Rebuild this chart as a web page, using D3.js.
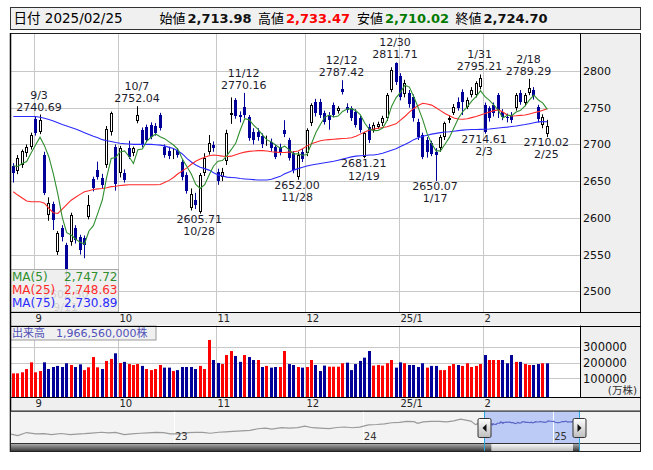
<!DOCTYPE html>
<html lang="ja">
<head>
<meta charset="utf-8">
<title>TOPIX 日足</title>
<script src="https://cdn.jsdelivr.net/npm/d3@7/dist/d3.min.js"></script>
<style>
html,body{margin:0;padding:0;background:#fff;}
svg{display:block;font-family:"DejaVu Sans","Noto Sans CJK JP",sans-serif;}
</style>
</head>
<body>
<svg id="chart" width="653" height="470"></svg>
<script>
// ---------------- data ----------------
const dates = [
"2024-08-26","2024-08-27","2024-08-28","2024-08-29","2024-08-30",
"2024-09-02","2024-09-03","2024-09-04","2024-09-05","2024-09-06",
"2024-09-09","2024-09-10","2024-09-11","2024-09-12","2024-09-13",
"2024-09-17","2024-09-18","2024-09-19","2024-09-20",
"2024-09-24","2024-09-25","2024-09-26","2024-09-27","2024-09-30",
"2024-10-01","2024-10-02","2024-10-03","2024-10-04",
"2024-10-07","2024-10-08","2024-10-09","2024-10-10","2024-10-11",
"2024-10-15","2024-10-16","2024-10-17","2024-10-18",
"2024-10-21","2024-10-22","2024-10-23","2024-10-24","2024-10-25",
"2024-10-28","2024-10-29","2024-10-30","2024-10-31",
"2024-11-01","2024-11-05","2024-11-06","2024-11-07","2024-11-08",
"2024-11-11","2024-11-12","2024-11-13","2024-11-14","2024-11-15",
"2024-11-18","2024-11-19","2024-11-20","2024-11-21","2024-11-22",
"2024-11-25","2024-11-26","2024-11-27","2024-11-28","2024-11-29",
"2024-12-02","2024-12-03","2024-12-04","2024-12-05","2024-12-06",
"2024-12-09","2024-12-10","2024-12-11","2024-12-12","2024-12-13",
"2024-12-16","2024-12-17","2024-12-18","2024-12-19","2024-12-20",
"2024-12-23","2024-12-24","2024-12-25","2024-12-26","2024-12-27",
"2024-12-30",
"2025-01-06","2025-01-07","2025-01-08","2025-01-09","2025-01-10",
"2025-01-14","2025-01-15","2025-01-16","2025-01-17",
"2025-01-20","2025-01-21","2025-01-22","2025-01-23","2025-01-24",
"2025-01-27","2025-01-28","2025-01-29","2025-01-30","2025-01-31",
"2025-02-03","2025-02-04","2025-02-05","2025-02-06","2025-02-07",
"2025-02-10","2025-02-12","2025-02-13","2025-02-14",
"2025-02-17","2025-02-18","2025-02-19","2025-02-20","2025-02-21",
"2025-02-25"
];
const open = [
2670.6,2663.8,2672.0,2688.0,2697.0, 2734.2,2716.5,2685.6,2604.0,2618.5,
2554.0,2586.6,2563.0,2567.5,2586.6, 2574.0,2573.0,2601.6,2652.5,
2665.0,2654.0,2672.0,2716.5,2697.0, 2660.7,2660.7,2694.7,2688.0,
2732.3,2719.7,2724.0,2726.5,2725.0, 2740.0,2697.0,2691.0,2688.0,
2692.0,2676.0,2658.0,2613.0,2624.3, 2608.0,2660.7,2690.0,2699.0,
2663.0,2656.0,2678.0,2740.0,2760.0, 2739.5,2751.4,2737.8,2717.0,2717.3,
2712.0,2704.0,2703.8,2697.0,2697.0, 2719.7,2706.0,2688.0,2656.0,2690.0,
2688.0,2729.0,2758.0,2758.0,2742.4, 2740.0,2753.7,2746.0,2775.0,2751.4,
2749.0,2744.6,2735.6,2683.3,2724.0, 2719.7,2724.0,2728.8,2735.6,2774.0,
2810.5,
2793.0,2768.0,2770.0,2765.0,2731.0, 2712.8,2706.0,2701.5,2689.0,
2694.7,2710.5,2733.3,2743.2,2758.2, 2771.8,2751.4,2767.3,2767.3,2778.6,
2753.7,2749.0,2753.7,2767.0,2744.6, 2737.8,2740.0,2749.2,2769.6,
2756.0,2770.5,2774.0,2751.4,2726.5, 2713.98
];
const high = [
2674.5,2685.5,2693.0,2700.0,2716.0, 2737.5,2740.69,2690.0,2628.0,2622.0,
2582.0,2590.0,2566.0,2607.0,2590.0, 2577.0,2576.0,2631.0,2656.0,
2676.5,2660.0,2725.0,2744.6,2700.0, 2698.0,2666.0,2705.0,2697.0,
2752.04,2723.0,2727.0,2730.0,2729.0, 2743.0,2700.0,2697.0,2695.0,
2695.0,2679.0,2662.0,2640.0,2634.0, 2661.0,2688.0,2712.8,2704.0,
2667.0,2668.0,2720.0,2764.0,2763.0, 2745.0,2770.16,2740.0,2722.0,2722.0,
2715.0,2712.0,2708.0,2700.0,2701.0, 2733.0,2709.0,2691.0,2690.0,2694.0,
2722.0,2756.0,2762.0,2762.0,2746.0, 2744.0,2757.0,2752.0,2787.42,2756.0,
2752.0,2748.0,2739.0,2717.0,2728.0, 2730.0,2731.0,2739.0,2770.0,2805.0,
2811.71,
2797.0,2788.0,2774.0,2768.0,2735.0, 2716.0,2710.0,2705.0,2695.0,
2713.0,2731.0,2740.0,2755.0,2764.0, 2775.0,2764.0,2778.0,2786.0,2795.21,
2757.0,2752.0,2757.0,2770.0,2748.0, 2742.0,2744.0,2770.0,2774.0,
2770.0,2789.29,2778.0,2754.0,2741.0, 2733.47
];
const low = [
2648.0,2659.5,2668.0,2683.0,2693.0, 2712.0,2714.0,2631.0,2596.0,2583.5,
2549.5,2568.0,2502.50,2562.0,2565.0, 2550.0,2545.0,2598.0,2636.0,
2652.0,2640.0,2668.0,2712.0,2637.0, 2655.0,2648.0,2680.0,2684.0,
2728.8,2696.0,2703.0,2707.0,2712.0, 2719.0,2682.0,2680.0,2680.0,
2682.0,2651.0,2633.0,2610.0,2612.0, 2605.71,2657.0,2686.0,2690.0,
2645.0,2650.0,2672.0,2728.0,2735.0, 2730.0,2736.0,2705.0,2700.0,2705.0,
2695.0,2698.0,2690.0,2680.0,2685.0, 2710.0,2678.0,2660.7,2652.00,2676.0,
2684.0,2725.0,2738.0,2736.0,2727.0, 2720.0,2737.0,2742.0,2768.0,2743.0,
2732.0,2723.0,2716.0,2681.21,2702.0, 2716.0,2721.0,2725.0,2732.0,2771.0,
2781.0,
2760.0,2764.0,2750.0,2731.0,2706.0, 2680.0,2682.0,2684.0,2650.07,
2690.0,2706.0,2729.0,2740.0,2746.0, 2740.0,2748.0,2764.0,2764.0,2775.0,
2714.61,2731.0,2738.0,2736.0,2733.0, 2730.0,2729.0,2746.0,2754.0,
2752.0,2767.0,2761.0,2730.0,2722.0, 2710.02
];
const close = [
2660.7,2681.0,2690.7,2697.0,2712.63, 2715.2,2733.3,2633.4,2620.0,2597.0,
2579.0,2574.3,2529.0,2604.0,2569.9, 2556.0,2563.0,2617.5,2640.0,
2656.0,2645.0,2721.0,2742.4,2645.94, 2694.7,2651.6,2683.3,2694.7,
2740.1,2699.2,2706.0,2710.5,2715.2, 2722.0,2685.6,2684.0,2689.0,
2686.0,2655.0,2636.0,2633.0,2617.5, 2658.4,2681.0,2701.5,2694.7,
2650.0,2663.0,2715.0,2743.0,2739.0, 2738.0,2740.0,2708.3,2706.0,2710.5,
2700.0,2706.0,2694.7,2683.3,2690.0, 2714.2,2681.0,2665.2,2685.6,2680.71,
2719.0,2753.7,2742.4,2740.0,2731.0, 2733.0,2740.0,2749.0,2771.8,2746.9,
2735.6,2726.5,2719.7,2715.2,2706.0, 2726.5,2727.8,2735.6,2767.3,2801.4,
2784.92,
2765.0,2784.0,2755.0,2735.6,2710.5, 2683.3,2689.0,2687.0,2686.0,
2710.5,2728.8,2735.6,2751.4,2750.0, 2758.2,2760.5,2774.0,2783.0,2790.0,
2717.3,2735.6,2742.4,2746.9,2737.8, 2735.6,2733.3,2767.3,2758.2,
2767.3,2776.85,2765.52,2734.33,2737.20, 2724.70
];
// 出来高 (万株)
const volume = [
132000,132000,139000,160000,203000, 139000,147000,203000,160000,173000,
180000,173000,197000,186000,173000, 190000,153000,171000,237000,
171000,160000,212000,225000,261000, 199000,206000,192000,186000,
192000,180000,160000,153000,160000, 186000,169000,169000,147000,
153000,173000,173000,173000,160000, 180000,160000,347000,218000,
199000,192000,250000,276000,244000, 206000,250000,237000,218000,218000,
173000,180000,169000,173000,173000, 276000,192000,186000,173000,169000,
173000,218000,186000,147000,182000, 175000,175000,175000,197000,201000,
153000,192000,212000,233000,276000, 182000,186000,182000,197000,218000,
169000,
203000,197000,186000,186000,173000, 197000,169000,180000,180000,
153000,153000,180000,192000,186000, 180000,197000,173000,180000,192000,
250000,218000,218000,218000,218000, 197000,250000,206000,206000,
192000,186000,186000,192000,197000, 196656
];
// closes of the four sessions before the first date (5-day average lead-in)
const ma5Lead = [2686.0, 2670.0, 2684.0, 2654.0];
const ma25 = [
2635.6,2631.0,2627.0,2623.0,2622.0, 2622.0,2622.0,2620.0,2613.0,2607.0,
2606.0,2612.0,2618.0,2624.0,2628.0, 2632.0,2635.5,2637.0,2638.5,
2639.5,2640.0,2641.0,2642.5,2643.0, 2644.0,2644.5,2645.0,2645.0,
2645.0,2645.0,2645.0,2645.0,2645.0, 2645.5,2648.0,2651.0,2655.0,
2660.0,2664.0,2668.0,2673.0,2677.0, 2680.0,2682.5,2684.5,2685.6,
2685.0,2684.0,2683.5,2684.0,2686.0, 2688.0,2689.5,2690.5,2691.0,2691.5,
2691.5,2691.0,2690.0,2689.5,2689.0, 2689.0,2689.5,2690.0,2691.0,2694.0,
2698.0,2701.0,2703.0,2705.0,2706.0, 2706.5,2707.0,2707.5,2708.0,2708.3,
2709.0,2711.0,2714.0,2717.0,2719.5, 2721.0,2722.0,2723.0,2724.0,2726.0,
2728.0,
2733.0,2738.0,2744.0,2749.0,2753.0, 2756.0,2755.0,2753.5,2750.0,
2746.0,2742.0,2739.0,2736.0,2734.5, 2734.2,2735.0,2736.5,2738.0,2740.0,
2742.0,2744.0,2746.0,2747.0,2744.0, 2740.0,2738.7,2739.0,2739.5,
2740.0,2741.5,2743.0,2744.6,2746.5, 2748.63
];
const ma75 = [
2738.0,2738.0,2738.0,2738.0,2738.0, 2738.0,2737.0,2735.5,2734.0,2732.0,
2729.5,2727.0,2725.0,2723.0,2721.0, 2718.5,2716.0,2713.5,2711.0,
2709.0,2706.5,2705.0,2704.0,2702.5, 2701.5,2701.0,2700.5,2700.0,
2700.0,2700.0,2700.0,2700.0,2699.5, 2699.0,2698.0,2696.0,2694.5,
2691.0,2687.0,2681.0,2676.0,2672.0, 2669.0,2667.0,2665.0,2661.5,
2658.5,2657.0,2655.5,2655.0,2654.5, 2653.5,2653.0,2652.5,2652.0,2651.5,
2651.5,2651.5,2652.5,2654.5,2656.5, 2660.0,2662.5,2665.0,2667.0,2669.0,
2670.5,2672.0,2673.0,2674.0,2675.0, 2676.0,2677.0,2678.5,2680.0,2681.5,
2683.0,2684.0,2684.5,2685.0,2685.5, 2685.6,2686.5,2688.0,2690.0,2692.0,
2694.0,
2697.0,2700.0,2703.0,2706.5,2709.0, 2711.0,2712.5,2714.0,2715.0,
2716.0,2716.8,2717.3,2718.0,2718.8, 2719.5,2720.0,2720.2,2720.4,2720.5,
2720.6,2721.0,2721.7,2722.4,2723.0, 2723.5,2724.3,2725.0,2726.0,
2727.0,2728.2,2729.5,2730.7,2731.0, 2730.89
];
const priceTicks = [2500, 2550, 2600, 2650, 2700, 2750, 2800];
const volumeTicks = [100000, 200000, 300000];
const monthStarts = ["2024-09-02","2024-10-01","2024-11-01","2024-12-02","2025-01-06","2025-02-03"];
const monthLabels = ["9","10","11","12","25/1","2"];
// swing highs / lows that carry a price tag
const swingDates = ["2024-09-03","2024-09-11","2024-10-07","2024-10-28","2024-11-12","2024-11-28",
  "2024-12-12","2024-12-19","2024-12-30","2025-01-17","2025-01-31","2025-02-03","2025-02-18","2025-02-25"];
const swingKinds = ["high","low","high","low","high","low","high","low","high","low","high","low","high","low"];
// longer history for the overview strip
const navDates = [
"2022-02-21","2022-03-08","2022-03-25","2022-04-12","2022-04-28","2022-05-12","2022-05-31",
"2022-06-17","2022-06-30","2022-07-15","2022-07-29","2022-08-17","2022-08-31","2022-09-13",
"2022-09-30","2022-10-14","2022-10-31","2022-11-15","2022-11-30","2022-12-15","2022-12-28",
"2023-01-13","2023-01-31","2023-02-15","2023-02-28","2023-03-15","2023-03-31","2023-04-14",
"2023-04-28","2023-05-15","2023-05-31","2023-06-15","2023-06-30","2023-07-12","2023-07-31",
"2023-08-15","2023-08-31","2023-09-14","2023-09-29","2023-10-13","2023-10-31","2023-11-15",
"2023-11-30","2023-12-14","2023-12-29","2024-01-15","2024-01-31","2024-02-15","2024-02-29",
"2024-03-15","2024-03-29","2024-04-12","2024-04-19","2024-04-30","2024-05-15","2024-05-31",
"2024-06-14","2024-06-28","2024-07-11","2024-07-31","2024-08-09","2024-08-16"
];
const navValues = [
1880,1760,1980,1880,1900,1840,1912,
1830,1871,1900,1940,2000,1963,1990,
1836,1880,1929,1960,1986,1970,1890,
1890,1975,1990,1993,1930,2003,2030,
2057,2100,2131,2250,2289,2230,2323,
2300,2332,2430,2323,2290,2254,2340,
2375,2320,2366,2520,2551,2600,2676,
2700,2769,2750,2630,2743,2770,2772,
2740,2810,2929,2794,2540,2650
];
const navYearLabels = ["23","24","25"];
const navYearStarts = ["2023-01-04","2024-01-04","2025-01-06"];

// ---------------- layout ----------------
const n = dates.length;
const svg = d3.select("#chart");
const L = 10, R = 580, RR = 641;
const T = 33, B = 312;
const band1 = [312, 325.5];
const VT = 325.5, VB = 397;
const band2 = [397, 410.5];
const NT = 410.5, NL = 443, NB = 452;
const grid = "#c8c8c8", panel = "#efefef";
const upFill = "#ffffff", downFill = "#000099";
const col5 = "#2f8f2f", col25 = "#ff2a2a", col75 = "#2b2bff";
const parse = d3.timeParse("%Y-%m-%d");

const x = d3.scaleBand().domain(d3.range(n)).range([11.08, 11.08 + 4.45 * n]);
const cx = i => x(i) + x.bandwidth() / 2;
const px = i => Math.round(cx(i) - 0.5) + 0.5;
const y = d3.scaleLinear().domain([2471.8, 2851.7]).range([B, T]);
const vy = d3.scaleLinear().domain([-20000, 440000]).range([VB, VT]);

// moving averages
const ma5 = close.map((c, i) => {
  const win = ma5Lead.concat(close).slice(i, i + 5);
  return d3.mean(win);
});

const defs = svg.append("defs");
defs.append("clipPath").attr("id", "clipMain")
  .append("rect").attr("x", L).attr("y", T).attr("width", R - L).attr("height", B - T);
defs.append("clipPath").attr("id", "clipVol")
  .append("rect").attr("x", L).attr("y", VT).attr("width", R - L).attr("height", VB - VT);

// ---------------- header ----------------
const last = n - 1;
const hdr = svg.append("g");
hdr.append("rect").attr("x", 10.5).attr("y", 7.5).attr("width", 630).attr("height", 22)
  .attr("fill", "#f0f0f0").attr("stroke", "#333");
const fmt2 = d3.format(",.2f");
const dLast = parse(dates[last]);
hdr.append("text").attr("x", 13.5).attr("y", 23).attr("font-size", 13.5)
  .text("日付 " + d3.timeFormat("%Y/%m/%d")(dLast));
const hItems = [
  {k: "始値", v: open[last], c: "#111", x: 159.5},
  {k: "高値", v: high[last], c: "#ff0000", x: 258},
  {k: "安値", v: low[last], c: "#007a00", x: 357},
  {k: "終値", v: close[last], c: "#111", x: 455.5}
];
hItems.forEach(h => {
  hdr.append("text").attr("x", h.x).attr("y", 23).attr("font-size", 13).text(h.k);
  hdr.append("text").attr("x", h.x + 28).attr("y", 23).attr("font-size", 13)
    .attr("font-weight", "bold").attr("fill", h.c).text(fmt2(h.v));
});

// ---------------- frames / panels ----------------
svg.append("rect").attr("x", L).attr("y", T).attr("width", R - L).attr("height", B - T).attr("fill", "#fff");
svg.append("rect").attr("x", R).attr("y", T).attr("width", RR - R).attr("height", B - T).attr("fill", panel);
svg.append("rect").attr("x", L).attr("y", band1[0]).attr("width", RR - L).attr("height", band1[1] - band1[0]).attr("fill", panel);
svg.append("rect").attr("x", L).attr("y", VT).attr("width", R - L).attr("height", VB - VT).attr("fill", "#fff");
svg.append("rect").attr("x", R).attr("y", VT).attr("width", RR - R).attr("height", VB - VT).attr("fill", panel);
svg.append("rect").attr("x", L).attr("y", band2[0]).attr("width", RR - L).attr("height", band2[1] - band2[0]).attr("fill", panel);

const monthIdx = monthStarts.map(d => dates.indexOf(d));
const gx = i => Math.round(x(i) + 0.5) + 0.5;

// price grid
const gMain = svg.append("g");
gMain.selectAll(".hg").data(priceTicks).join("line")
  .attr("x1", L).attr("x2", R)
  .attr("y1", d => Math.round(y(d)) + 0.5).attr("y2", d => Math.round(y(d)) + 0.5)
  .attr("stroke", grid);
gMain.selectAll(".vg").data(monthIdx).join("line")
  .attr("x1", gx).attr("x2", gx).attr("y1", T).attr("y2", B).attr("stroke", grid);

// volume grid
const gVol = svg.append("g");
gVol.selectAll(".hg").data(volumeTicks).join("line")
  .attr("x1", L).attr("x2", R)
  .attr("y1", d => Math.round(vy(d)) + 0.5).attr("y2", d => Math.round(vy(d)) + 0.5)
  .attr("stroke", grid);
gVol.selectAll(".vg").data(monthIdx).join("line")
  .attr("x1", gx).attr("x2", gx).attr("y1", VT).attr("y2", VB).attr("stroke", grid);

// ---------------- price axis ----------------
const yAxis = d3.axisRight(y).tickValues(priceTicks).tickSize(0).tickPadding(3).tickFormat(d3.format("d"));
svg.append("g").attr("transform", `translate(${R},0)`).call(yAxis)
  .call(g => g.select(".domain").remove())
  .call(g => g.selectAll("text").attr("font-size", 11).attr("fill", "#111")
    .attr("font-family", "DejaVu Sans"));

const vAxis = d3.axisRight(vy).tickValues(volumeTicks).tickSize(0).tickPadding(3).tickFormat(d3.format("d"));
svg.append("g").attr("transform", `translate(${R},0)`).call(vAxis)
  .call(g => g.select(".domain").remove())
  .call(g => g.selectAll("text").attr("font-size", 11.5).attr("fill", "#111")
    .attr("font-family", "DejaVu Sans"));
svg.append("text").attr("x", 637).attr("y", 394).attr("text-anchor", "end")
  .attr("font-size", 10.5).attr("fill", "#333").text("(万株)");

// month labels in both bands
[band1, band2].forEach(b => {
  svg.append("g").selectAll("text").data(monthIdx).join("text")
    .attr("x", i => gx(i) + 1).attr("y", b[0] + 9.8)
    .attr("font-size", 10).attr("fill", "#222")
    .text((d, k) => monthLabels[k]);
});

// ---------------- candles ----------------
const gC = svg.append("g").attr("clip-path", "url(#clipMain)");
d3.range(n).forEach(i => {
  const up = close[i] >= open[i];
  const c = px(i);
  gC.append("line").attr("x1", c).attr("x2", c)
    .attr("y1", y(high[i])).attr("y2", y(low[i]))
    .attr("stroke", up ? "#000" : downFill).attr("stroke-width", 1);
  const t = Math.round(y(Math.max(open[i], close[i])));
  const b = Math.round(y(Math.min(open[i], close[i])));
  if (up) {
    gC.append("rect").attr("x", c - 1).attr("y", t + 0.5)
      .attr("width", 2).attr("height", Math.max(0, b - t - 1))
      .attr("fill", upFill).attr("stroke", "#000").attr("stroke-width", 1);
  } else {
    gC.append("rect").attr("x", c - 1.5).attr("y", t)
      .attr("width", 3).attr("height", Math.max(1, b - t))
      .attr("fill", downFill);
  }
});

// ---------------- moving averages ----------------
const line = d3.line().x((d, i) => cx(i)).y(d => y(d));
const gMA = svg.append("g").attr("clip-path", "url(#clipMain)").attr("fill", "none").attr("stroke-width", 1.1);
gMA.append("path").attr("d", line(ma75)).attr("stroke", col75);
gMA.append("path").attr("d", line(ma25)).attr("stroke", col25);
gMA.append("path").attr("d", line(ma5)).attr("stroke", col5);

// ---------------- swing tags ----------------
const fmtP = d3.format(".2f");
const fmtMD = d => { const t = parse(d); return (t.getMonth() + 1) + "/" + t.getDate(); };
const gTag = svg.append("g").attr("font-size", 11).attr("fill", "#1c1c2c").attr("text-anchor", "middle");
swingDates.forEach((d, k) => {
  const i = dates.indexOf(d);
  const tx = cx(i) - 1;
  if (swingKinds[k] === "high") {
    const yy = y(high[i]);
    gTag.append("text").attr("x", tx).attr("y", yy - 4).text(fmtP(high[i]));
    gTag.append("text").attr("x", tx).attr("y", yy - 16).text(fmtMD(d));
  } else {
    const yy = y(low[i]);
    gTag.append("text").attr("x", tx).attr("y", yy + 9).text(fmtP(low[i]));
    gTag.append("text").attr("x", tx).attr("y", yy + 21.3).text(fmtMD(d));
  }
});

// MA legend
const lg = svg.append("g");
lg.append("rect").attr("x", 10.5).attr("y", 269.5).attr("width", 108).attr("height", 42.5)
  .attr("fill", "rgba(236,236,236,0.86)").attr("stroke", "#aaa");
[["MA(5)", ma5, col5], ["MA(25)", ma25, col25], ["MA(75)", ma75, col75]].forEach((m, k) => {
  const yy = 280.5 + k * 13.4;
  lg.append("text").attr("x", 12).attr("y", yy).attr("font-size", 12).attr("fill", m[2]).text(m[0]);
  lg.append("text").attr("x", 117.5).attr("y", yy).attr("font-size", 12).attr("fill", m[2])
    .attr("text-anchor", "end").text(fmt2(m[1][last]));
});

// ---------------- volume ----------------
const gV = svg.append("g").attr("clip-path", "url(#clipVol)");
const prevClose = i => i === 0 ? ma5Lead[ma5Lead.length - 1] : close[i - 1];
gV.selectAll("rect").data(volume).join("rect")
  .attr("x", (d, i) => px(i) - 1.5).attr("width", 3)
  .attr("y", d => vy(d)).attr("height", d => VB - vy(d))
  .attr("fill", (d, i) => close[i] >= prevClose(i) ? "#ff0000" : downFill);

const vl = svg.append("g");
vl.append("rect").attr("x", 10.5).attr("y", VT + 0.5).attr("width", 145.5).attr("height", 14)
  .attr("fill", "rgba(238,238,238,0.9)").attr("stroke", "#999");
vl.append("text").attr("x", 12).attr("y", VT + 11.5).attr("font-size", 11).attr("fill", "#5050b8")
  .text("出来高　" + d3.format(",")(volume[last] * 10000) + "株");

// ---------------- borders ----------------
const bd = svg.append("g").attr("stroke", "#000").attr("fill", "none");
bd.append("rect").attr("x", L + 0.5).attr("y", T + 0.5).attr("width", RR - L - 1).attr("height", NB - T - 1).attr("stroke", "#222");
[band1[0], band1[1], VB, band2[1]].forEach(v =>
  bd.append("line").attr("x1", L).attr("x2", RR).attr("y1", Math.round(v) + 0.5).attr("y2", Math.round(v) + 0.5));
bd.append("line").attr("x1", R + 0.5).attr("x2", R + 0.5).attr("y1", T).attr("y2", B);
bd.append("line").attr("x1", R + 0.5).attr("x2", R + 0.5).attr("y1", VT).attr("y2", VB);
bd.append("line").attr("x1", L + 0.5).attr("x2", L + 0.5).attr("y1", T).attr("y2", NB).attr("stroke-width", 1.5);

// ---------------- overview strip ----------------
const navX = d3.scaleTime().domain([parse("2022-02-21"), parse("2025-02-25")]).range([L, R - 1]);
const navY = d3.scaleLinear().domain([1238, 3546]).range([NL, NT]);
const ng = svg.append("g");
ng.append("rect").attr("x", L + 1).attr("y", NT + 1).attr("width", RR - L - 2).attr("height", NB - NT - 2).attr("fill", "#f3f3f3");
const selX0 = navX(parse(dates[0])), selX1 = navX(parse(dates[last]));
ng.append("rect").attr("x", selX0).attr("y", NT + 1).attr("width", selX1 - selX0).attr("height", NL - NT - 1)
  .attr("fill", "#bccbf5");
navYearStarts.forEach(d => {
  const xx = Math.round(navX(parse(d))) + 0.5;
  ng.append("line").attr("x1", xx).attr("x2", xx).attr("y1", NT + 1).attr("y2", NL).attr("stroke", "#fff");
});
const navLine = d3.line().x(d => navX(d[0])).y(d => navY(d[1]));
const histPts = navDates.map((d, k) => [parse(d), navValues[k]]).concat([[parse(dates[0]), close[0]]]);
const winPts = dates.map((d, k) => [parse(d), close[k]]);
ng.append("path").attr("d", navLine(histPts)).attr("fill", "none").attr("stroke", "#9a9a9a").attr("stroke-width", 1.2);
ng.append("path").attr("d", navLine(winPts)).attr("fill", "none").attr("stroke", "#5a66c8").attr("stroke-width", 1.2);
ng.selectAll(".yl").data(navYearStarts).join("text")
  .attr("x", d => navX(parse(d)) + 1).attr("y", NL - 3).attr("font-size", 10).attr("fill", "#333")
  .text((d, k) => navYearLabels[k]);

// scrollbar
const gDark = defs.append("linearGradient").attr("id", "gDark").attr("x1", 0).attr("y1", 0).attr("x2", 0).attr("y2", 1);
gDark.append("stop").attr("offset", 0).attr("stop-color", "#b8b8b8");
gDark.append("stop").attr("offset", 1).attr("stop-color", "#3a3a3a");
const gLight = defs.append("linearGradient").attr("id", "gLight").attr("x1", 0).attr("y1", 0).attr("x2", 0).attr("y2", 1);
gLight.append("stop").attr("offset", 0).attr("stop-color", "#ffffff");
gLight.append("stop").attr("offset", 1).attr("stop-color", "#bdbdbd");
ng.append("rect").attr("x", L + 1).attr("y", NL).attr("width", selX1 - L).attr("height", NB - NL - 1).attr("fill", "url(#gDark)");
ng.append("rect").attr("x", selX0 + 7).attr("y", NL).attr("width", selX1 - selX0 - 13).attr("height", NB - NL - 1).attr("fill", "url(#gLight)");
ng.append("line").attr("x1", L).attr("x2", RR).attr("y1", NL + 0.5).attr("y2", NL + 0.5).attr("stroke", "#333");

// window edges and handles
[selX0, selX1].forEach((xx, k) => {
  const lx = Math.round(xx) + 0.5;
  ng.append("line").attr("x1", lx).attr("x2", lx).attr("y1", NT).attr("y2", NB).attr("stroke", "#2aa8e0");
  ng.append("rect").attr("x", Math.round(xx) - 6).attr("y", 418.5).attr("width", 13).attr("height", 19)
    .attr("fill", "url(#gLight)").attr("stroke", "#333").attr("rx", 1.5);
  const m = Math.round(xx) + 0.5, mid = 428;
  const tri = k === 0 ? `M${m + 2},${mid - 4}L${m - 2},${mid}L${m + 2},${mid + 4}Z`
                      : `M${m - 2},${mid - 4}L${m + 2},${mid}L${m - 2},${mid + 4}Z`;
  ng.append("path").attr("d", tri).attr("fill", "#111");
});
svg.append("rect").attr("x", L + 0.5).attr("y", NT + 0.5).attr("width", RR - L - 1).attr("height", NB - NT - 1)
  .attr("fill", "none").attr("stroke", "#222");
</script>
</body>
</html>
